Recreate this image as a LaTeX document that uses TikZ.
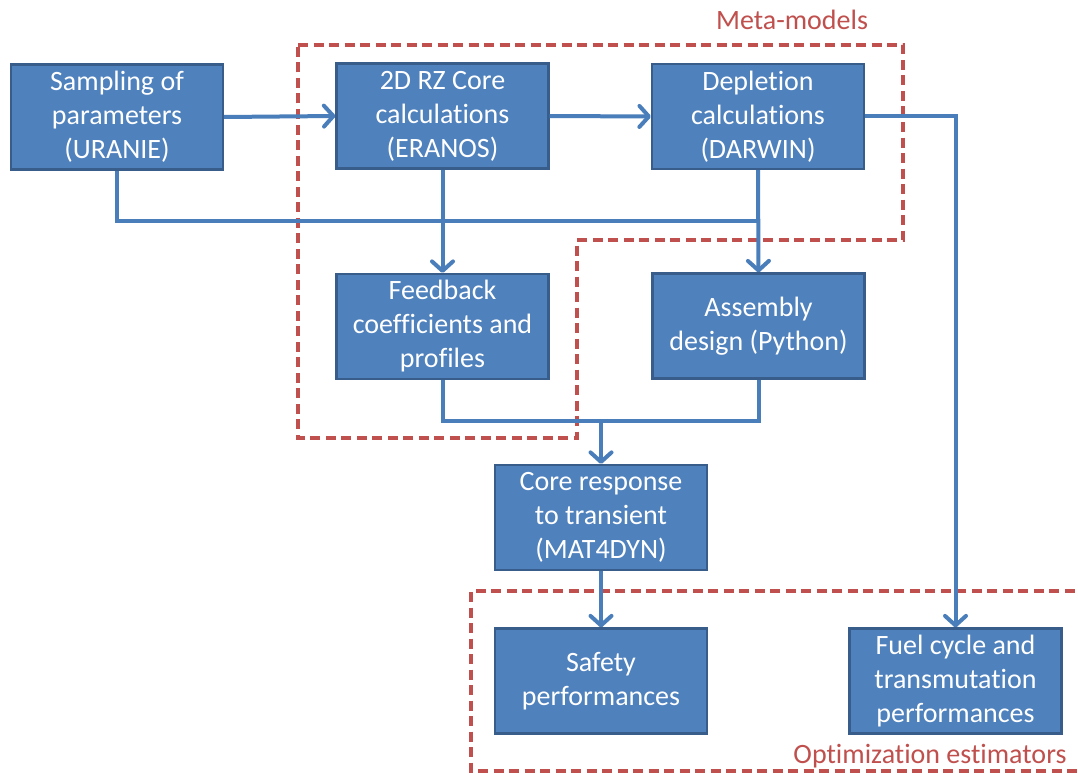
\documentclass[tikz,border=0pt]{standalone}
\usepackage{fontspec}
\setmainfont{Carlito}[Ligatures=NoCommon]
\usetikzlibrary{arrows.meta, positioning}

\definecolor{boxblue}{HTML}{4F81BD}
\definecolor{boxedge}{HTML}{385D8A}
\definecolor{linkblue}{HTML}{4A7EBB}
\definecolor{metared}{HTML}{C0504D}

\begin{document}
\begin{tikzpicture}[x=1pt, y=-1pt, >={Straight Barb[length=9.5pt, width=21pt, round]},
    block/.style={draw=boxedge, line width=2.2pt, fill=boxblue, text=white, align=center,
        minimum width=212pt, minimum height=105pt, inner sep=0pt,
        font=\fontsize{28}{34}\selectfont},
    link/.style={draw=linkblue, line width=4pt},
    zone/.style={draw=metared, line width=3.5pt, dash pattern=on 10pt off 5.5pt},
    zonelabel/.style={text=metared, font=\fontsize{28}{34}\selectfont}]

    % ==========================================
    % Canvas
    % ==========================================
    \fill[white] (0,0) rectangle (1078,773);
    \useasboundingbox (0,0) rectangle (1078,773);

    % ==========================================
    % Dashed zones
    % ==========================================
    \draw[zone] (298,45) -- (903,45) -- (903,240) -- (577,240) -- (577,438) -- (298,438) -- cycle;
    \node[zonelabel] (metalabel) at (792,20) {Meta-models};

    \draw[zone] (1090,591) -- (471,591) -- (471,771) -- (1090,771);
    \node[zonelabel] (optlabel) at (930,756) {Optimization estimators};

    % ==========================================
    % Calculation chain
    % ==========================================
    \node[block] (samp) at (117,117)   {Sampling of\\parameters\\(URANIE)};
    \node[block] (core) at (442.5,116) {2D RZ Core\\calculations\\(ERANOS)};
    \node[block] (depl) at (758,116.5) {Depletion\\calculations\\(DARWIN)};
    \node[block] (feed) at (442.5,326.5) {Feedback\\coefficients and\\profiles};
    \node[block] (asm)  at (758.5,326) {Assembly\\design (Python)};
    \node[block] (resp) at (601,517.5) {Core response\\to transient\\(MAT4DYN)};

    % Estimators
    \node[block] (safe) at (601,681)   {Safety\\performances};
    \node[block] (fuel) at (955.5,681) {Fuel cycle and\\transmutation\\performances};

    % ==========================================
    % Connectors
    % ==========================================
    \coordinate (busjoin) at ([yshift=-51pt]depl.south);
    \coordinate (merge) at ([yshift=43pt]resp.north);

    \draw[link, ->] (samp.east) -- (core.west);
    \draw[link, ->] (core.east) -- (depl.west);
    \draw[link, ->] (depl.east) -| (fuel.north);

    \draw[link] (samp.south) |- (busjoin);
    \draw[link, ->] (depl.south) -- (asm.north);
    \draw[link, ->] (core.south) -- (feed.north);

    \draw[link] (feed.south) |- (merge);
    \draw[link] (asm.south) |- (merge);
    \draw[link, ->] (merge) -- (resp.north);
    \draw[link, ->] (resp.south) -- (safe.north);

\end{tikzpicture}
\end{document}
